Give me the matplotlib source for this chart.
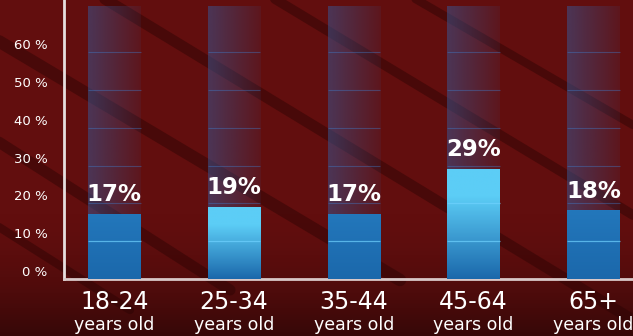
"""Age-group share chart on a dark red backdrop."""

import numpy as np
import matplotlib.pyplot as plt
from matplotlib.colors import to_rgb

age_groups = ["18-24", "25-34", "35-44", "45-64", "65+"]
sub_label = "years old"
shares = [17, 19, 17, 29, 18]
highlight = [False, True, False, True, False]
y_ticks = [0, 10, 20, 30, 40, 50, 60]
track_top = 72

BG = "#620e0e"
DARK_BLUE = "#1b68ab"
LIGHT_BLUE = "#5ccdf6"
WIDTH = 0.44


def vertical_gradient(top, bottom, n=64):
    """RGB column running from the top colour down to the bottom colour."""
    t = np.linspace(0, 1, n)[:, None]
    top, bottom = np.array(to_rgb(top)), np.array(to_rgb(bottom))
    return (top * (1 - t) + bottom * t)[:, None, :]


fig = plt.figure(figsize=(6.33, 3.36), dpi=100)
fig.patch.set_facecolor(BG)

# backdrop with diagonal shadow streaks
bg = fig.add_axes([0, 0, 1, 1], zorder=0)
bg.set_xlim(0, 633)
bg.set_ylim(336, 0)
bg.axis("off")
bg.set_facecolor(BG)
for x0, y0, x1, y1, lw in [(-20, 30, 400, 280, 9), (90, -10, 633, 320, 8),
                           (260, -10, 633, 215, 7), (-20, 130, 230, 290, 8),
                           (400, -10, 633, 125, 6), (-20, 215, 130, 310, 6)]:
    bg.plot([x0, x1], [y0, y1], color="#2a0303", lw=lw, alpha=0.45,
            solid_capstyle="round")
shade = np.linspace(0, 1, 50)[:, None] ** 2
bg.imshow(np.dstack([np.zeros((50, 1, 3)), shade[:, :, None] * 0.45]),
          extent=(0, 633, 336, 200), aspect="auto", zorder=1)

ax = fig.add_axes([64 / 633, 57 / 336, 1 - 64 / 633, 1 - 57 / 336], zorder=1)
ax.patch.set_alpha(0)
x = np.arange(len(age_groups))
ax.set_xlim(-0.42, 4.33)
ax.set_ylim(0, 73.8)

for xi, val, hl in zip(x, shares, highlight):
    left, right = xi - WIDTH / 2, xi + WIDTH / 2
    # faded track behind the bar
    alpha = np.linspace(0.55, 0.12, 32)[None, :]
    track = np.dstack([np.full((1, 32, 3), to_rgb("#3a5590")), alpha])
    ax.imshow(track, extent=(left, right, 0, track_top), aspect="auto",
              zorder=2)
    if hl:
        grad = vertical_gradient(LIGHT_BLUE, DARK_BLUE)
        grad = np.concatenate([np.repeat(grad[:1], 20, axis=0), grad], axis=0)
    else:
        grad = vertical_gradient("#2377bb", DARK_BLUE)
    ax.imshow(grad, extent=(left, right, 0, val), aspect="auto", zorder=3)
    ax.hlines([t for t in y_ticks[1:] if t < val], left, right,
              color="#6fd2ff", lw=0.9, alpha=0.7, zorder=4)
    ax.hlines([t for t in y_ticks[1:] if t > val], left, right,
              color="#3f7fd0", lw=0.8, alpha=0.4, zorder=4)
    ax.text(xi, val + 2.2, f"{val}%", ha="center", va="bottom",
            color="white", fontsize=16.5, fontweight="heavy", zorder=5)

ax.set_xticks([])
ax.set_yticks(y_ticks)
ax.set_yticklabels([f"{t} %" for t in y_ticks])
ax.tick_params(axis="y", length=0, pad=12, labelsize=9.5, labelcolor="white")
for lbl in ax.get_yticklabels():
    lbl.set_verticalalignment("bottom")
for side in ["top", "right"]:
    ax.spines[side].set_visible(False)
ax.spines["left"].set_color("#e6dede")
ax.spines["left"].set_linewidth(2)
ax.spines["bottom"].set_color("#d9c8c8")
ax.spines["bottom"].set_linewidth(2)

for xi, grp in zip(x, age_groups):
    ax.text(xi, -3.0, grp, ha="center", va="top", color="white", fontsize=17,
            transform=ax.transData, clip_on=False)
    ax.text(xi, -9.9, sub_label, ha="center", va="top", color="white",
            fontsize=12.5, transform=ax.transData, clip_on=False)

fig.savefig("out.png", dpi=100, facecolor=fig.get_facecolor())
